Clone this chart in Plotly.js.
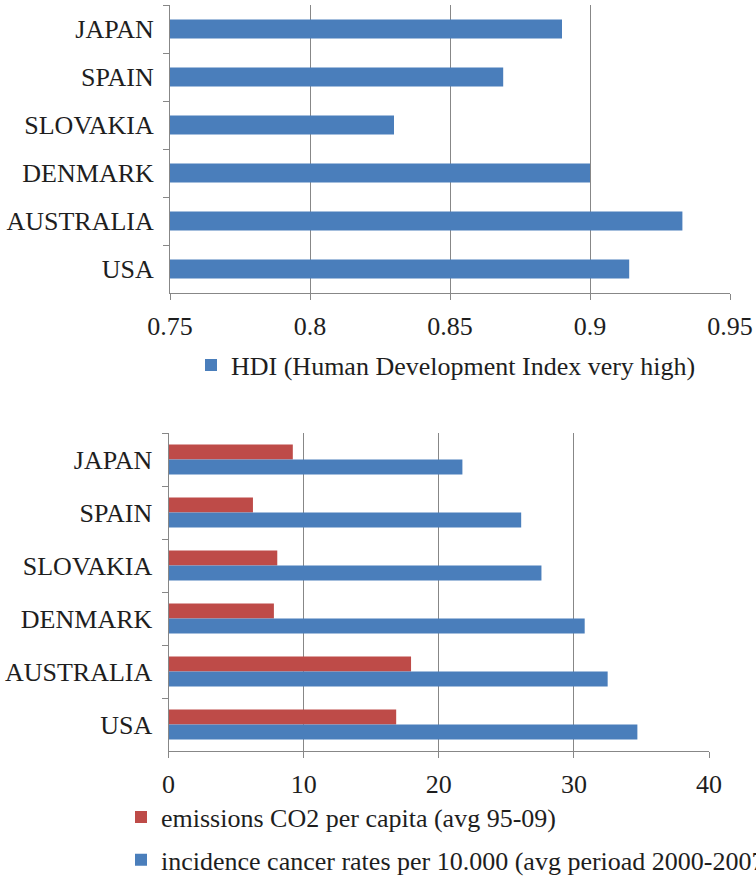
<!DOCTYPE html>
<html>
<head>
<meta charset="utf-8">
<script src="https://cdn.plot.ly/plotly-3.0.1.min.js"></script>
<style>html,body{margin:0;padding:0;background:#fff;}#chart{width:756px;height:877px;}</style>
</head>
<body>
<div id="chart"></div>
<script>
// ---- data ----
const countries = ['JAPAN', 'SPAIN', 'SLOVAKIA', 'DENMARK', 'AUSTRALIA', 'USA'];
const hdi = [0.890, 0.869, 0.830, 0.900, 0.933, 0.914];
const co2 = [9.2, 6.25, 8.05, 7.8, 17.95, 16.85];
const cancer = [21.75, 26.1, 27.6, 30.8, 32.5, 34.7];
const hdiTicks = [0.75, 0.8, 0.85, 0.9, 0.95];
const hdiTickText = ['0.75', '0.8', '0.85', '0.9', '0.95'];
const bottomTicks = [0, 10, 20, 30, 40];
const bottomTickText = ['0', '10', '20', '30', '40'];
const hdiName = 'HDI (Human Development Index very high)';
const co2Name = 'emissions CO2 per capita (avg 95-09)';
const cancerName = 'incidence cancer rates per 10.000 (avg perioad 2000-2007)';

const BLUE = '#4A7EBB', RED = '#BE4B48';
const GRID = '#878787', TXT = '#1e1e1e';
const FONT = {family: 'Liberation Serif, Times New Roman, serif', size: 26, color: TXT};
const W = 756, H = 877;

const traces = [
  {type: 'bar', orientation: 'h', y: countries, x: hdi, name: hdiName,
   marker: {color: BLUE}, width: 0.4, xaxis: 'x', yaxis: 'y', legend: 'legend', hoverinfo: 'x+y'},
  {type: 'bar', orientation: 'h', y: countries, x: co2, name: co2Name,
   marker: {color: RED}, xaxis: 'x2', yaxis: 'y2', legend: 'legend2', legendgroup: 'g1', hoverinfo: 'x+y'},
  {type: 'bar', orientation: 'h', y: countries, x: cancer, name: cancerName,
   marker: {color: BLUE}, xaxis: 'x2', yaxis: 'y2', legend: 'legend2', legendgroup: 'g2', hoverinfo: 'x+y'}
];

const xCommon = {showgrid: true, gridcolor: GRID, gridwidth: 1, zeroline: false,
  showline: true, linecolor: GRID, linewidth: 1, ticks: 'outside', ticklen: 6,
  tickcolor: GRID, tickfont: FONT, ticklabelstandoff: 4, fixedrange: true};
const yCommon = {type: 'category', categoryorder: 'array', categoryarray: countries,
  range: [5.5, -0.5], showgrid: false, zeroline: false, showline: true, linecolor: GRID,
  linewidth: 1, ticks: 'outside', ticklen: 6, tickcolor: GRID, tickson: 'boundaries',
  tickfont: FONT, ticklabelstandoff: 10, fixedrange: true};

const layout = {
  width: W, height: H,
  margin: {l: 0, r: 0, t: 0, b: 0, autoexpand: false},
  paper_bgcolor: '#fff', plot_bgcolor: '#fff',
  font: FONT,
  barmode: 'group', bargap: 0.434, bargroupgap: 0,
  xaxis: Object.assign({}, xCommon, {domain: [170 / W, 730 / W], range: [0.75, 0.95],
    tickvals: hdiTicks, ticktext: hdiTickText, anchor: 'y'}),
  yaxis: Object.assign({}, yCommon, {domain: [1 - 293 / H, 1 - 5 / H], anchor: 'x'}),
  xaxis2: Object.assign({}, xCommon, {domain: [168.5 / W, 709 / W], range: [0, 40],
    tickvals: bottomTicks, ticktext: bottomTickText, anchor: 'y2'}),
  yaxis2: Object.assign({}, yCommon, {domain: [1 - 751 / H, 1 - 433 / H], anchor: 'x2'}),
  showlegend: true,
  legend: {x: 191 / W, xanchor: 'left', y: 1 - 365 / H, yanchor: 'middle',
    bgcolor: 'rgba(0,0,0,0)', borderwidth: 0, font: FONT},
  legend2: {x: 121 / W, xanchor: 'left', y: 1 - 838.5 / H, yanchor: 'middle',
    bgcolor: 'rgba(0,0,0,0)', borderwidth: 0, font: FONT, traceorder: 'grouped',
    tracegroupgap: 6}
};

Plotly.newPlot('chart', traces, layout, {displayModeBar: false, staticPlot: true});
</script>
</body>
</html>
